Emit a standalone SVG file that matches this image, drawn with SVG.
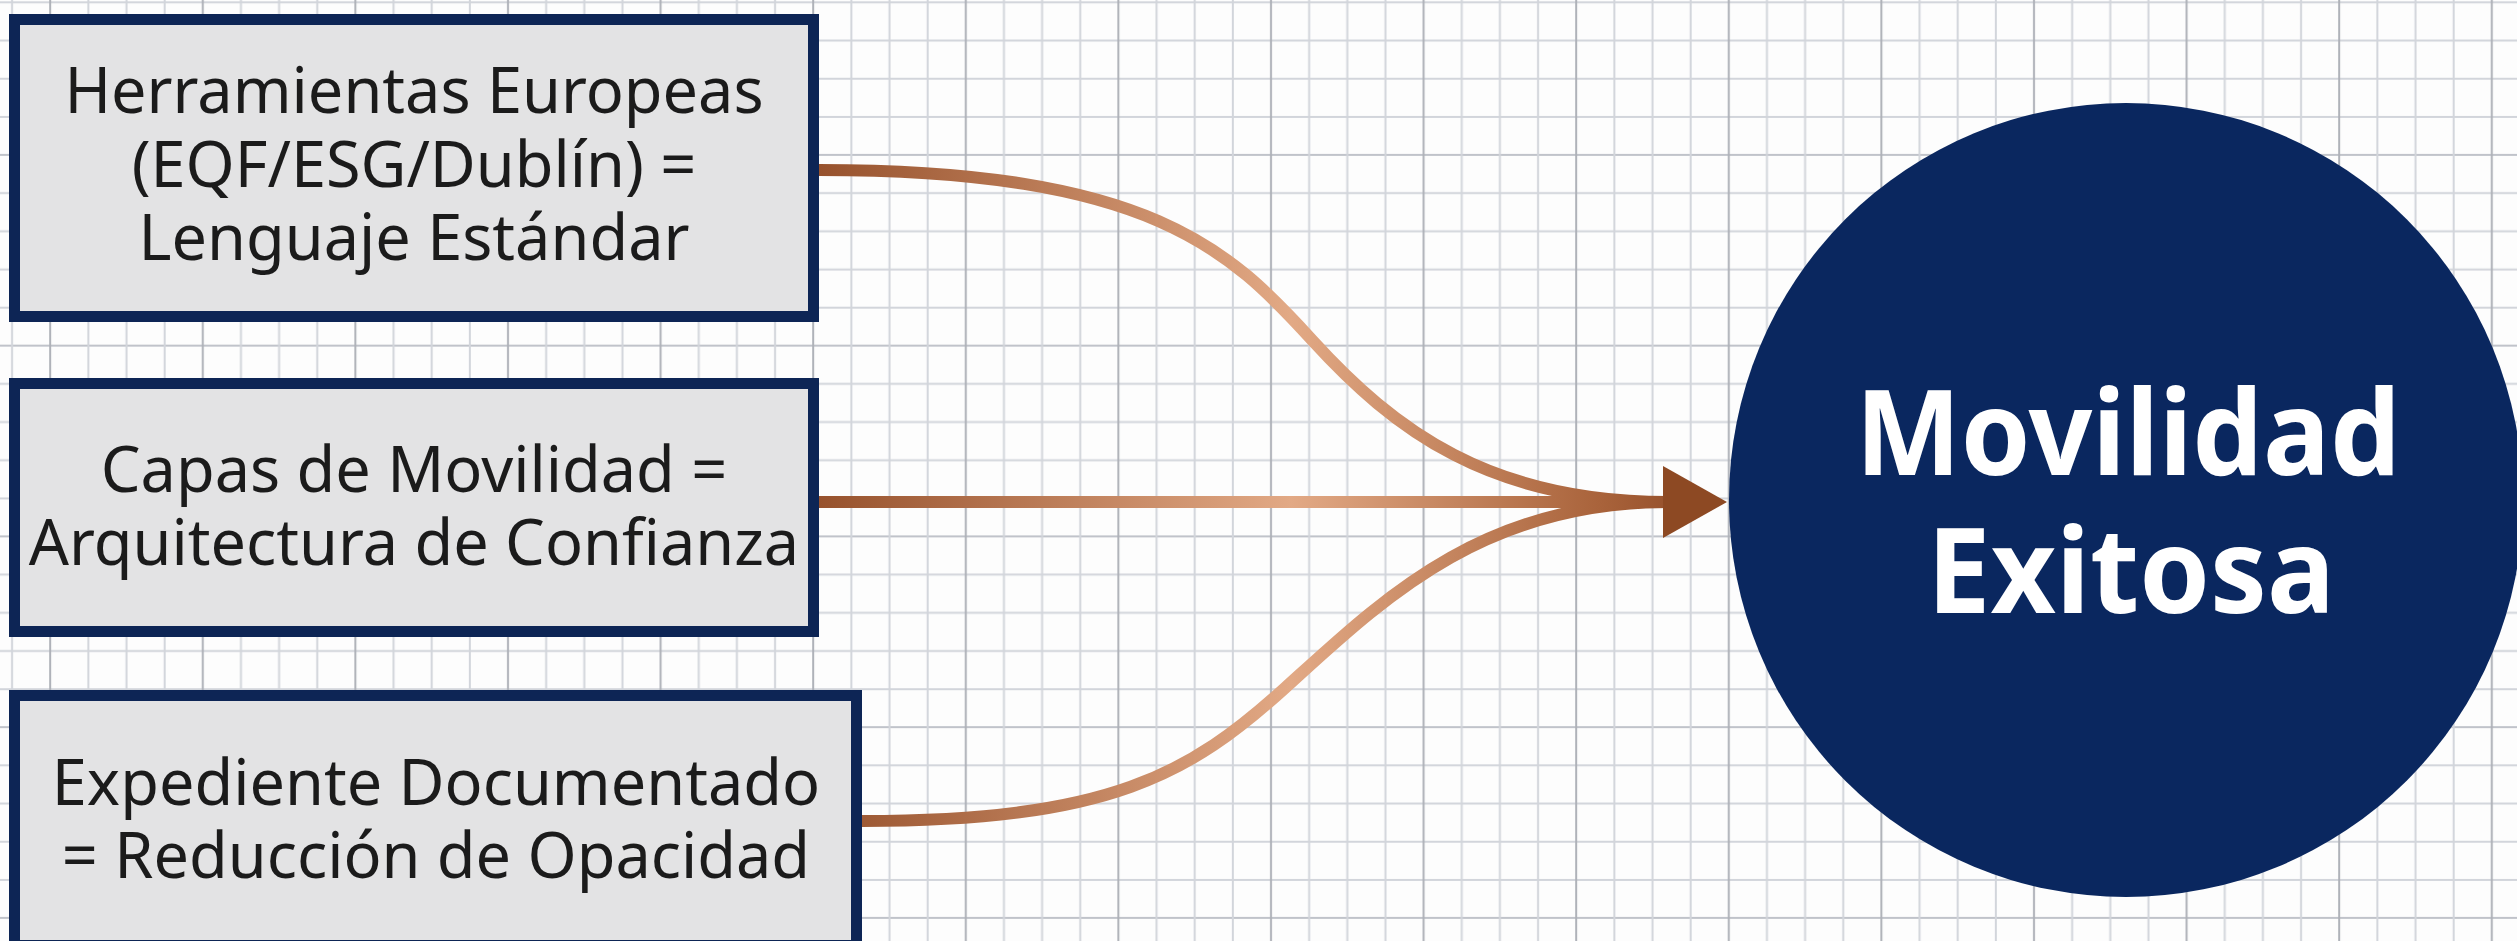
<svg xmlns="http://www.w3.org/2000/svg" width="2517" height="941" viewBox="0 0 2517 941">
  <style>
    .box { fill: #e3e3e4; stroke: #0d2555; stroke-width: 11; }
    .btxt { font-family: "Noto Sans", "Liberation Sans", sans-serif; font-size: 63px; fill: #1b1b1b; text-anchor: middle; }
    .ctxt { font-family: "Noto Sans", "Liberation Sans", sans-serif; font-weight: bold; font-size: 118px; fill: #ffffff; text-anchor: middle; }
    .wire { fill: none; stroke: url(#cu); stroke-width: 12; stroke-linecap: butt; }
    .gmin { stroke: #d2d5db; stroke-width: 2; }
    .gmid { stroke: #c0c3ca; stroke-width: 2; }
    .gmaj { stroke: #aeb1b8; stroke-width: 2; }
  </style>
  <defs>
    <pattern id="grid" patternUnits="userSpaceOnUse" x="31.125" y="135.925" width="152.6" height="190.75">
      <line class="gmin" x1="0" y1="57.225" x2="152.6" y2="57.225"/>
      <line class="gmin" x1="0" y1="95.375" x2="152.6" y2="95.375"/>
      <line class="gmin" x1="0" y1="133.525" x2="152.6" y2="133.525"/>
      <line class="gmin" x1="0" y1="171.675" x2="152.6" y2="171.675"/>
      <line class="gmid" x1="0" y1="19.075" x2="152.6" y2="19.075"/>
      <line class="gmin" x1="57.225" y1="0" x2="57.225" y2="190.75"/>
      <line class="gmin" x1="95.375" y1="0" x2="95.375" y2="190.75"/>
      <line class="gmin" x1="133.525" y1="0" x2="133.525" y2="190.75"/>
      <line class="gmaj" x1="19.075" y1="0" x2="19.075" y2="190.75"/>
    </pattern>
    <linearGradient id="cu" gradientUnits="userSpaceOnUse" x1="819" y1="0" x2="1727" y2="0">
      <stop offset="0" stop-color="#97522d"/>
      <stop offset="0.52" stop-color="#e2a985"/>
      <stop offset="0.86" stop-color="#a9633b"/>
      <stop offset="1" stop-color="#8a4522"/>
    </linearGradient>
    <marker id="head" markerUnits="userSpaceOnUse" markerWidth="64" markerHeight="72" refX="17" refY="36" orient="auto" viewBox="0 0 64 72">
      <path d="M0,0 L64,36 L0,72 Z" fill="#8d4923"/>
    </marker>
  </defs>

  <rect x="0" y="0" width="2517" height="941" fill="#fdfdfd"/>
  <rect x="0" y="0" width="2517" height="941" fill="url(#grid)"/>

  <g id="connectors">
    <path class="wire" d="M819,170 C1150,170 1230,250 1312,340 S1490,502 1668,502"/>
    <path class="wire" d="M862,821 C1110,821 1190,774 1285,688 S1480,502 1668,502"/>
    <path class="wire" d="M819,502 L1680,502" marker-end="url(#head)"/>
  </g>

  <g id="node-herramientas">
    <rect class="box" x="14.5" y="19.5" width="799" height="297"/>
    <text class="btxt" x="414" y="113">Herramientas Europeas</text>
    <text class="btxt" x="414" y="187">(EQF/ESG/Dublín) =</text>
    <text class="btxt" x="414" y="260">Lenguaje Estándar</text>
  </g>

  <g id="node-capas">
    <rect class="box" x="14.5" y="383.5" width="799" height="248"/>
    <text class="btxt" x="414" y="492">Capas de Movilidad =</text>
    <text class="btxt" x="414" y="565">Arquitectura de Confianza</text>
  </g>

  <g id="node-expediente">
    <rect class="box" x="14.5" y="695.5" width="842" height="250"/>
    <text class="btxt" x="436" y="805">Expediente Documentado</text>
    <text class="btxt" x="436" y="878">= Reducción de Opacidad</text>
  </g>

  <g id="node-movilidad">
    <circle cx="2126" cy="500" r="397" fill="#0a275f"/>
    <text class="ctxt" x="2128" y="475" textLength="545" lengthAdjust="spacingAndGlyphs">Movilidad</text>
    <text class="ctxt" x="2131" y="613" textLength="408" lengthAdjust="spacingAndGlyphs">Exitosa</text>
  </g>
</svg>
